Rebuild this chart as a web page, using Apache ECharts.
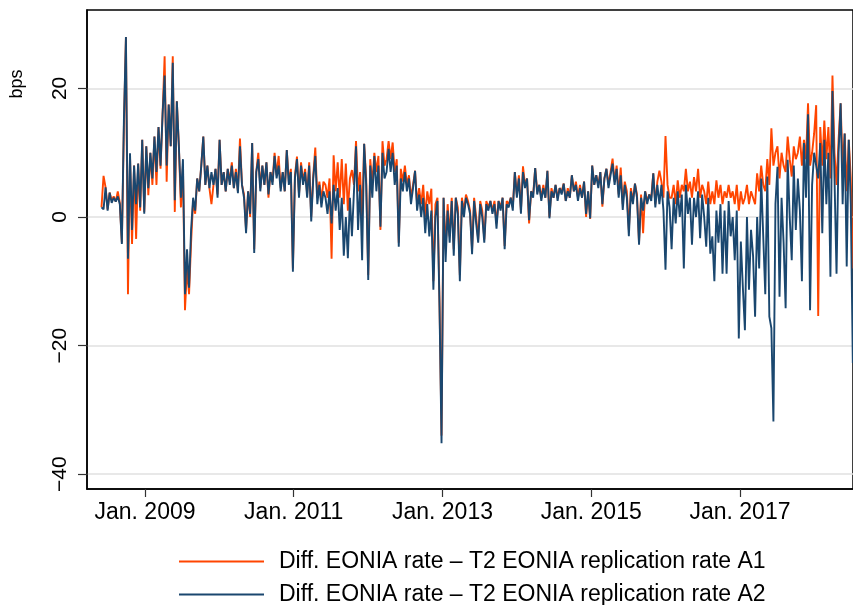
<!DOCTYPE html>
<html>
<head>
<meta charset="utf-8">
<title>EONIA replication</title>
<script src="https://cdn.jsdelivr.net/npm/echarts@6/dist/echarts.min.js"></script>
<style>
  html, body { margin: 0; padding: 0; background: #fff; }
  #chart { width: 853px; height: 605px; }
</style>
</head>
<body>
<div id="chart"></div>
<script>
// observations every 10 days, starting June 2008 (decimal years)
const startYear = 2008.415
const stepYears = 10 / 365.25

const seriesNames = [
  'Diff. EONIA rate \u2013 T2 EONIA replication rate A1',
  'Diff. EONIA rate \u2013 T2 EONIA replication rate A2'
]

const yearTicks = [2009, 2011, 2013, 2015, 2017]
const bpsTicks = [-40, -20, 0, 20]

// bps
const rateA1 = [
  1.5, 6.4, 4.6, 1.2, 3.8, 2.6, 3.2, 2.4, 4.0, 2.2,
  -4.0, 14, 28, -12, 9.5, -4.2, 8, -3.4, 8.3, 1.0,
  12, 0.8, 11, 3.4, 10, 5, 12.5, 5, 14, 7.5,
  16, 25, 5.5, 17.5, 11, 25, 0.8, 18, 11, 1.5,
  8, -14.5, -8, -12, -4, 2.5, 0.5, 6, 4, 8,
  12.5, 5, 8, 4.5, 2, 5, 7.5, 3.5, 12, 5,
  7, 4, 7.5, 5.5, 8.5, 4.5, 7.5, 4, 12.2, 5,
  3.5, -2, 4, 0, 11.5, -5, 7, 10, 4.5, 8,
  5, 8.5, 3, 7, 5.5, 10, 6.5, 9.5, 4.5, 7,
  4, 10.4, 5.5, 7.5, -8, 6.5, 9.4, 3.5, 8.5, 5.5,
  7.5, 3.5, 8.5, 0, 6.5, 10.8, 3, 5.5, 2.5, 5.5,
  5, 3, 6, -6.5, 9.6, 4, 8.5, 3, 9, 2,
  8.3, 1, 6, 7.3, 5, 11.8, 4, 7, 0, 11.4,
  6, -9, 9, 5, 10, 7, 9.5, -2, 11.8, 8,
  9, 11.8, 9, 11.6, 7, 9, -4, 7.5, 5.5, 8,
  5, 6.5, 3, 5, 7.2, 2, 4.5, 2, 5, 0,
  4, 2, 4.4, -10, 2, 3, -13, -34, 3, -5,
  2, -3, 3, -5, 3, 1.5, -9, 3, 1, 3.5,
  2.5, 1, -5, 3, 0, -3.5, 2.5, 1, -3.5, 2.5,
  1.5, 2.5, 1, 2.5, -1, 2.5, 1.5, 3, -4.5, 2.5,
  2, 3, 1.5, 7, 3.5, 6.5, 1, 7.9, 5, 6,
  -1, 4, 3.5, 7.6, 4, 5, 3, 5, 3, 7.2,
  0, 4.5, 3, 5, 3, 4.5, 4, 5.2, 2.5, 4.5,
  3, 6.5, 4, 5.5, 3, 5, 3, 5.5, 0, 4,
  -0.3, 8, 5, 6.5, 5, 7, 1.6, 6, 7.5, 5,
  7, 9.1, 5.5, 8, 3.5, 7.7, 2, 5.5, 4, -2,
  4.5, 2.5, 5.2, 3.5, -4, 3.5, -2.5, 4, 2.5, 3.5,
  3, 6.8, 2, 5.5, 7.2, 5.5, 3, 12.6, 5, 3,
  3, 5, 2, 5.7, 3, 5, 4, 7.5, 4, 5.5,
  3, 6.2, 4, 7.5, 3, 5, 4, 2, 5.5, 2,
  4, 2, 5.7, 3, 5, 2, 4, 3, 5, 3,
  4, 2, 5, 1, 4, 2, 3, 5, 2, 4,
  3, 2, 6.8, 4, 8, 5, 4, 9, 5, 13.8,
  8, 10, 11, 6, 10, 8, 7, 12.5, 9, 6.3,
  11, 9, 10, 12.5, 8, 12, 9, 17.7, 8, 10,
  13, 17.4, -15.4, 14, 8, 15, 9, 14, 6, 22,
  10, 5, 12, 17.7, 8, 13, 4, 12, 6, -8
]

const rateA2 = [
  1.5, 1.2, 4.6, 1.0, 3.8, 2.2, 3.0, 2.4, 3.2, 2.0,
  -4.2, 15, 28, -6.5, 9.9, -2, 8, 2, 8.3, 1.5,
  12, 0.5, 11, 4.5, 10, 6, 12.5, 7, 14, 8,
  16, 22, 8, 17.5, 11, 24, 2.6, 18, 11, 3,
  9, -12, -5, -11, -2, 3, 1, 6, 4, 8,
  12.5, 5, 8, 4.5, 7, 5, 7.5, 3, 12, 5,
  7, 4, 7.5, 5, 8, 4.5, 7, 3.7, 11, 5,
  3, -2.5, 4, 0.5, 11.5, -5.6, 7, 9, 4, 8,
  5, 8.5, 3.5, 7, 5, 9.5, 6, 8, 4, 7,
  4, 10.4, 5, 7, -8.5, 6, 9, 3, 8, 5,
  7, 3, 8, -0.7, 6, 9.5, 2, 5, 1.5, 4,
  3, 0.5, 4, -1, 5, 1, 4.5, -2, 3, -6,
  0, -6.4, 3, -3, 4, 11, -2, 5, -6.7, 11.4,
  5, -9.8, 8, 3, 9.5, 4, 8, -1.5, 10, 6,
  7, 10.6, 7, 10, 5, 8, -4.6, 6, 4, 7,
  4, 6, 2, 4.5, 7.2, 1, 3.5, 0, 3, -2.5,
  2, -3, 1, -11.3, 0, 2.5, -13.9, -35.2, 3, -7,
  1, -4, 2.5, -6, 3, 0.5, -10, 2.5, 0, 3,
  2, 0.5, -5.8, 2.5, -1, -4, 2, 0, -4, 2,
  1, 2.5, 0.5, 2, -1.8, 2.5, 1, 3, -5, 2,
  1.5, 3, 1, 7, 3, 6, 0.5, 7, 4.5, 6,
  -0.5, 4, 3, 7.6, 3.5, 5, 2.5, 4.5, 3, 7.2,
  -0.2, 4, 3, 5, 2.5, 4.5, 3.5, 5.2, 2.5, 4,
  3, 6.5, 4, 5, 2.5, 4.5, 3, 5.5, 0.5, 4,
  -0.2, 8, 5, 6.5, 4.5, 7, 2, 6, 7.5, 4.5,
  6.5, 8.3, 5, 7.5, 3, 6.5, 1.1, 5, 3, -3,
  4, 2, 5.2, 3, -4.3, 3, 1, 4, 2, 3.5,
  2.5, 6.8, 1.5, 5, 2, 5, 1, -8.2, 4, 1.5,
  -5, 3, -1, 4, 0, 3.5, -8, 5, 0.5, 3,
  -4.3, 3, 0, 4, -3.3, 3.5, 0, -4.6, 3, -5.7,
  -3, -10, 1, -4, 2, -8.8, 1, -8.8, 2.5, -3,
  0, -6.7, 1, -18.9, -3.8, -11, -17.6, 0, -11.3, -2,
  -6, -15.5, 0, -8, 6, -3, -12, 6.3, -15.5, -17.3,
  -31.8, 2, 7.8, -12.4, 3, -4, -14.2, 8.9, 0, -6.7,
  8, -2, 6, 1, -10, 11.5, 3, 16, -14.5, 5,
  10, 8, 6, 11.5, -2.5, 12, 2, 10, -9.3, 19.6,
  6, -8.8, 10, 17.7, 2, 13, -7.7, 12, 2, -22.7
]

const colorArr = ['#ff4500', '#1a476f']
const font = 'Liberation Sans'

function toPoints(vals) {
  return vals.map((v, i) => [startYear + i * stepYears, v])
}

// one legend row per series, stacked under the plot
function legendRow(name, top) {
  return {
    data: [name],
    left: 179,
    top: top,
    padding: 0,
    icon: 'rect',
    itemWidth: 85,
    itemHeight: 2,
    textStyle: {
      fontFamily: font,
      fontSize: 23,
      lineHeight: 23,
      color: '#000',
      padding: [0, 0, 0, 10]
    }
  }
}

const chart = echarts.init(document.getElementById('chart'), null, { renderer: 'canvas' })

chart.setOption({
  animation: false,
  color: colorArr,
  grid: {
    left: 87,
    top: 10,
    right: 0,
    bottom: 116,
    show: true,
    borderColor: '#000',
    borderWidth: 1.5
  },
  legend: [legendRow(seriesNames[0], 550), legendRow(seriesNames[1], 583)],
  graphic: [{
    type: 'text',
    x: 17,
    y: 84,
    rotation: Math.PI / 2,
    style: {
      text: 'bps',
      font: '18px "Liberation Sans"',
      fill: '#000',
      textAlign: 'center',
      textVerticalAlign: 'middle'
    }
  }],
  xAxis: {
    type: 'value',
    min: 2008.22,
    max: 2018.52,
    axisLine: { show: true, onZero: false, lineStyle: { color: '#000', width: 1.5 } },
    axisTick: {
      show: true,
      length: 8,
      customValues: yearTicks,
      lineStyle: { color: '#333', width: 1.2 }
    },
    axisLabel: {
      customValues: yearTicks,
      margin: 12,
      fontFamily: font,
      fontSize: 23,
      color: '#000',
      formatter: function (v) { return 'Jan. ' + v }
    },
    splitLine: { show: false }
  },
  yAxis: {
    type: 'value',
    min: -42.3,
    max: 32.2,
    axisLine: { show: true, onZero: false, lineStyle: { color: '#000', width: 1.5 } },
    axisTick: {
      show: true,
      length: 9,
      customValues: bpsTicks,
      lineStyle: { color: '#333', width: 1.2 }
    },
    axisLabel: {
      customValues: bpsTicks,
      rotate: 90,
      margin: 16,
      fontFamily: font,
      fontSize: 21,
      color: '#000',
      formatter: function (v) { return String(v).replace('-', '\u2212') }
    },
    splitLine: { show: true, lineStyle: { color: '#e0e0e0', width: 1.5 } }
  },
  series: [
    {
      name: seriesNames[0],
      type: 'line',
      symbol: 'none',
      lineStyle: { width: 1.9 },
      data: toPoints(rateA1)
    },
    {
      name: seriesNames[1],
      type: 'line',
      symbol: 'none',
      lineStyle: { width: 1.9 },
      data: toPoints(rateA2)
    }
  ]
})
</script>
</body>
</html>
